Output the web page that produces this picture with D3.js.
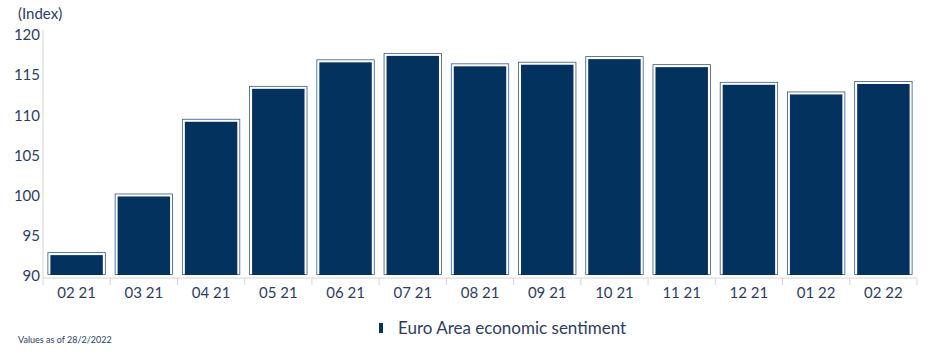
<!DOCTYPE html>
<html><head><meta charset="utf-8">
<script src="https://cdn.jsdelivr.net/npm/d3@7"></script>
<style>body{margin:0;background:#fff}svg{display:block}</style>
</head><body>
<svg id="c" width="929" height="359"></svg>
<script>
const categories = ["02 21","03 21","04 21","05 21","06 21","07 21","08 21","09 21","10 21","11 21","12 21","01 22","02 22"];
const sentiment = [92.6, 99.9, 109.2, 113.3, 116.6, 117.4, 116.1, 116.3, 117.0, 116.0, 113.8, 112.6, 113.9];
const yTicks = [90, 95, 100, 105, 110, 115, 120];
const seriesName = "Euro Area economic sentiment";
const unitLabel = "(Index)";
const footnote = "Values as of 28/2/2022";

const svg = d3.select("#c");
const barColor = "#04325f", textColor = "#2e3d5e", axisColor = "#d6d6d6";
const font = "Lato, 'DejaVu Sans', sans-serif";

const x = d3.scaleBand().domain(categories).range([43, 917]).paddingInner(0.22).paddingOuter(0.11);
const y = d3.scaleLinear().domain([90, 120]).range([276, 35]);

// y axis
const ya = svg.append("g").attr("transform","translate(43,0)")
  .call(d3.axisLeft(y).tickValues(yTicks).tickSize(0).tickPadding(3));
ya.select(".domain").attr("stroke", axisColor).attr("d","M0,30V278");
ya.selectAll("text").attr("fill", textColor).style("font-family", font).style("font-size","15px");

// x axis
const xa = svg.append("g").attr("transform","translate(0,278)")
  .call(d3.axisBottom(x).tickSize(0).tickPadding(9));
xa.select(".domain").attr("stroke", axisColor).attr("d","M43,0H917");
xa.selectAll("text").attr("fill", textColor).style("font-family", font).style("font-size","15px");
const step = x.step();
const bounds = d3.range(categories.length + 1).map(i => 43 + i * (874 / categories.length));
svg.append("g").selectAll("line").data(bounds).join("line")
  .attr("x1", d => d).attr("x2", d => d).attr("y1", 278).attr("y2", 285)
  .attr("stroke", axisColor);

// bars
const bars = svg.append("g");
bars.selectAll("rect.o").data(sentiment).join("rect").attr("class","o")
  .attr("x", (d,i) => x(categories[i]) - 2.5)
  .attr("y", d => y(d) - 2.5)
  .attr("width", x.bandwidth() + 5)
  .attr("height", d => y(90) - y(d) + 1)
  .attr("fill","none").attr("stroke", barColor).attr("stroke-width", 0.8).attr("stroke-opacity",0.8);
bars.selectAll("rect.b").data(sentiment).join("rect").attr("class","b")
  .attr("x", (d,i) => x(categories[i]))
  .attr("y", d => y(d))
  .attr("width", x.bandwidth())
  .attr("height", d => y(90) - y(d) - 1)
  .attr("fill", barColor);

// labels
svg.append("text").attr("x", 18).attr("y", 19).text(unitLabel)
  .attr("fill", textColor).style("font-family", font).style("font-size","15px");

const lg = svg.append("g");
lg.append("rect").attr("x", 379).attr("y", 323).attr("width", 4).attr("height", 10).attr("fill", barColor);
lg.append("text").attr("x", 398).attr("y", 334).text(seriesName)
  .attr("fill", textColor).style("font-family", font).style("font-size","17px");

svg.append("text").attr("x", 18).attr("y", 343).text(footnote)
  .attr("fill", textColor).style("font-family", font).style("font-size","9px");
</script>
</body></html>
